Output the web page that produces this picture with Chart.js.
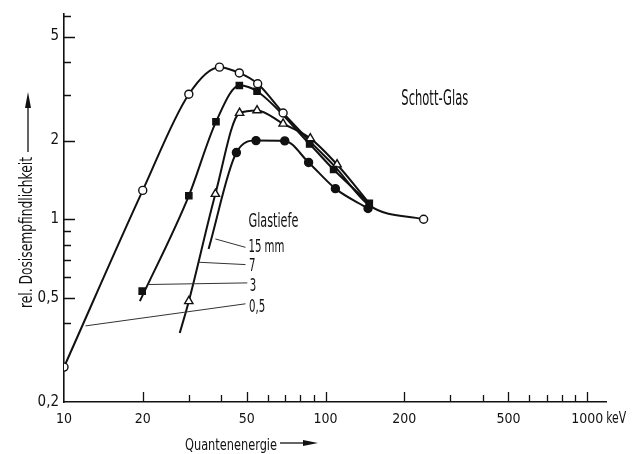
<!DOCTYPE html>
<html>
<head>
<meta charset="utf-8">
<title>Schott-Glas</title>
<script src="https://cdn.jsdelivr.net/npm/chart.js"></script>
<style>
  html, body { margin: 0; padding: 0; background: #fff; overflow: hidden; }
  #wrap { width: 633px; height: 454px; }
</style>
</head>
<body>
<div id="wrap"><canvas id="c" width="633" height="454"></canvas></div>
<script>
// ---------- data ----------
// 0,5 mm glass depth (open circles)
const mark05E = [10, 20, 30, 39.3, 46.8, 55, 68.8, 237];
const mark05V = [0.272, 1.29, 3.01, 3.82, 3.63, 3.30, 2.55, 1.00];
const line05E = [10, 20, 30, 39.3, 46.8, 55, 68.8, 87, 108, 147, 237];
const line05V = [0.272, 1.29, 3.01, 3.82, 3.63, 3.30, 2.55, 1.99, 1.60, 1.13, 1.00];
// 3 mm (filled squares)
const mark3E = [19.9, 30, 38.1, 46.8, 54.7, 86.9, 107.3, 146.9];
const mark3V = [0.531, 1.23, 2.36, 3.25, 3.09, 1.94, 1.55, 1.15];
const line3E = [19.5, 30, 38.1, 46.8, 54.7, 86.9, 107.3, 146.9];
const line3V = [0.486, 1.23, 2.36, 3.25, 3.09, 1.94, 1.55, 1.15];
// 7 mm (open triangles)
const mark7E = [30, 37.9, 46.9, 54.7, 68.8, 87.4, 110.6];
const mark7V = [0.486, 1.25, 2.55, 2.61, 2.32, 2.04, 1.62];
const line7E = [27.7, 30, 37.9, 46.9, 54.7, 68.8, 87.4, 110.6, 146.9];
const line7V = [0.367, 0.486, 1.25, 2.55, 2.61, 2.32, 2.04, 1.62, 1.15];
// 15 mm (filled circles)
const mark15E = [45.6, 54.2, 69.8, 86.1, 109, 145.3];
const mark15V = [1.80, 2.00, 1.995, 1.65, 1.31, 1.10];
const line15E = [35.7, 45.6, 54.2, 69.8, 86.1, 109, 145.3];
const line15V = [0.770, 1.80, 2.00, 1.995, 1.65, 1.31, 1.10];

// axis ticks
const xMajorTicks = [10, 20, 50, 100, 200, 500, 1000];
const xTickLabels = ['10', '20', '50', '100', '200', '500', '1000'];
const xMinorTicks = [30, 40, 60, 70, 80, 90, 300, 400, 600, 700, 800, 900];
const yMajorTicks = [0.2, 0.5, 1, 2, 5];
const yTickLabels = ['0,2', '0,5', '1', '2', '5'];
const yMinorTicks = [0.4, 0.6, 0.7, 0.8, 0.9, 3, 4, 6];

// texts
const titleText = 'Schott-Glas';
const xTitle = 'Quantenenergie';
const yTitle = 'rel. Dosisempfindlichkeit';
const unitText = 'keV';
const legendHead = 'Glastiefe';
const depthLabels = ['15 mm', '7', '3', '0,5'];
// leader lines (data coordinates): from curve to label
const leaderFromE = [37.9, 32.7, 21.1, 12.08];
const leaderFromV = [0.841, 0.685, 0.563, 0.391];
const leaderToE = [49.4, 49.4, 50.2, 49.4];
const leaderToV = [0.781, 0.671, 0.571, 0.475];
// label anchors (data coordinates)
const legendHeadE = 50.7, legendHeadV = 0.978;
const depthLabelE = [50.7, 51.0, 51.3, 51.0];
const depthLabelV = [0.782, 0.659, 0.553, 0.460];
const titleE = 194.7, titleV = 2.86;

// ---------- helpers ----------
const pts = (xs, ys) => xs.map((v, i) => ({ x: v, y: ys[i] }));
const INK = '#111';
const TXT_FONT = "'Liberation Sans Narrow', 'DejaVu Sans Condensed', 'Liberation Sans', Arial, sans-serif";

function lineDs(xs, ys) {
  return {
    data: pts(xs, ys), showLine: true, borderColor: INK, borderWidth: 2,
    pointRadius: 0, cubicInterpolationMode: 'monotone', fill: false, order: 2
  };
}
function markDs(xs, ys, style, radius, filled) {
  return {
    data: pts(xs, ys), showLine: false, pointStyle: style, pointRadius: radius,
    pointBorderColor: INK, pointBackgroundColor: filled ? INK : '#fff',
    pointBorderWidth: 1.4, order: 1
  };
}

function fitText(ctx, text, x, y, size, targetW) {
  ctx.font = size + 'px ' + TXT_FONT;
  const w = ctx.measureText(text).width;
  const s = targetW / w;
  ctx.save();
  ctx.translate(x, y);
  ctx.scale(s, 1);
  ctx.textAlign = 'left';
  ctx.textBaseline = 'middle';
  ctx.fillText(text, 0, 0);
  ctx.restore();
  return s;
}
function scaledText(ctx, text, x, y, size, s) {
  ctx.font = size + 'px ' + TXT_FONT;
  ctx.save();
  ctx.translate(x, y);
  ctx.scale(s, 1);
  ctx.textAlign = 'left';
  ctx.textBaseline = 'middle';
  ctx.fillText(text, 0, 0);
  ctx.restore();
}

const decor = {
  id: 'decor',
  afterDraw(chart) {
    const { ctx, chartArea: a, scales: { x, y } } = chart;
    ctx.save();
    ctx.strokeStyle = INK;
    ctx.fillStyle = INK;
    // inward ticks
    ctx.lineWidth = 1.3;
    ctx.beginPath();
    xMajorTicks.forEach(v => { if (v > 10) { const px = Math.round(x.getPixelForValue(v)) + 0.5; ctx.moveTo(px, a.bottom); ctx.lineTo(px, a.bottom - 10); } });
    xMinorTicks.forEach(v => { const px = Math.round(x.getPixelForValue(v)) + 0.5; ctx.moveTo(px, a.bottom); ctx.lineTo(px, a.bottom - 7); });
    yMajorTicks.forEach(v => { if (v > 0.2) { const py = Math.round(y.getPixelForValue(v)) + 0.5; ctx.moveTo(a.left, py); ctx.lineTo(a.left + 11, py); } });
    yMinorTicks.forEach(v => { const py = Math.round(y.getPixelForValue(v)) + 0.5; ctx.moveTo(a.left, py); ctx.lineTo(a.left + 7, py); });
    ctx.stroke();

    // leader lines
    ctx.lineWidth = 1;
    ctx.strokeStyle = '#333';
    ctx.beginPath();
    leaderFromE.forEach((e, i) => {
      ctx.moveTo(x.getPixelForValue(e), y.getPixelForValue(leaderFromV[i]));
      ctx.lineTo(x.getPixelForValue(leaderToE[i]), y.getPixelForValue(leaderToV[i]));
    });
    ctx.stroke();

    // labels
    ctx.fillStyle = INK;
    fitText(ctx, titleText, x.getPixelForValue(titleE), y.getPixelForValue(titleV), 21, 67);
    fitText(ctx, legendHead, x.getPixelForValue(legendHeadE), y.getPixelForValue(legendHeadV), 20, 50);
    const s = fitText(ctx, depthLabels[0], x.getPixelForValue(depthLabelE[0]), y.getPixelForValue(depthLabelV[0]), 18, 36);
    for (let i = 1; i < depthLabels.length; i++) {
      scaledText(ctx, depthLabels[i], x.getPixelForValue(depthLabelE[i]), y.getPixelForValue(depthLabelV[i]), 18, s);
    }

    // unit after 1000
    fitText(ctx, unitText, x.getPixelForValue(1000) + 19, 419, 16, 20);

    // x title + arrow
    fitText(ctx, xTitle, 185, 446, 16, 92);
    ctx.strokeStyle = INK;
    ctx.lineWidth = 1.3;
    ctx.beginPath(); ctx.moveTo(280, 443); ctx.lineTo(306, 443); ctx.stroke();
    ctx.beginPath(); ctx.moveTo(318, 443); ctx.lineTo(303, 440); ctx.lineTo(303, 446); ctx.closePath(); ctx.fill();

    // y title + arrow
    ctx.save();
    ctx.translate(28, 308);
    ctx.rotate(-Math.PI / 2);
    fitText(ctx, yTitle, 0, 0, 17, 151);
    ctx.restore();
    ctx.beginPath(); ctx.moveTo(28, 152); ctx.lineTo(28, 105); ctx.stroke();
    ctx.beginPath(); ctx.moveTo(28, 92); ctx.lineTo(25, 108); ctx.lineTo(31, 108); ctx.closePath(); ctx.fill();
    ctx.restore();
  }
};

new Chart(document.getElementById('c'), {
  type: 'scatter',
  data: {
    datasets: [
      markDs(mark05E, mark05V, 'circle', 4, false),
      markDs(mark3E, mark3V, 'rect', 4.4, true),
      markDs(mark7E, mark7V, 'triangle', 4.8, false),
      markDs(mark15E, mark15V, 'circle', 4, true),
      lineDs(line05E, line05V),
      lineDs(line3E, line3V),
      lineDs(line7E, line7V),
      lineDs(line15E, line15V)
    ]
  },
  options: {
    responsive: false,
    animation: false,
    events: [],
    layout: { padding: { top: 12, right: 27, left: 0, bottom: 0 } },
    plugins: { legend: { display: false }, tooltip: { enabled: false }, title: { display: false } },
    scales: {
      x: {
        type: 'logarithmic', min: 10, max: 1180, position: 'bottom',
        grid: { display: false, drawTicks: false },
        border: { display: true, color: INK, width: 1.6 },
        afterBuildTicks: s => { s.ticks = xMajorTicks.map(v => ({ value: v })); },
        afterFit: s => { s.height = 52; },
        ticks: {
          autoSkip: false, maxRotation: 0, padding: 9, color: INK,
          font: { family: TXT_FONT, size: 14 },
          callback: (v, i) => xTickLabels[i]
        }
      },
      y: {
        type: 'logarithmic', min: 0.2, max: 6.1, position: 'left',
        grid: { display: false, drawTicks: false },
        border: { display: true, color: INK, width: 1.6 },
        afterBuildTicks: s => { s.ticks = yMajorTicks.map(v => ({ value: v })); },
        afterFit: s => { s.width = 64; },
        ticks: {
          autoSkip: false, padding: 5, color: INK,
          font: { family: TXT_FONT, size: 15 },
          callback: (v, i) => yTickLabels[i]
        }
      }
    }
  },
  plugins: [decor]
});
</script>
</body>
</html>
